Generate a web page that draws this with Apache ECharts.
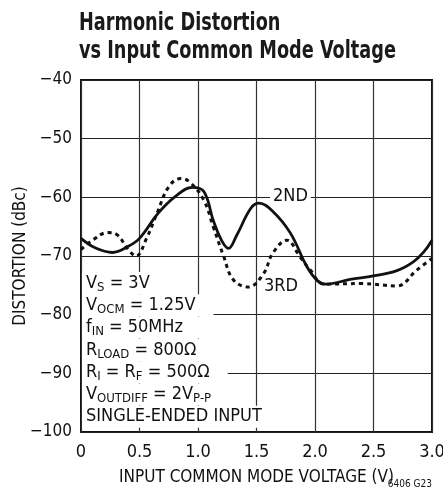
<!DOCTYPE html>
<html>
<head>
<meta charset="utf-8">
<script src="https://cdn.jsdelivr.net/npm/echarts@6/dist/echarts.min.js"></script>
<style>
  html, body { margin: 0; padding: 0; background: #fff; }
  #chart { width: 443px; height: 498px; }
</style>
</head>
<body>
<div id="chart"></div>
<script>
const FONT = '"DejaVu Sans Condensed", "Liberation Sans", sans-serif'

// 2ND harmonic (solid)
const x2nd = [0, 0.12, 0.27, 0.40, 0.50, 0.66, 0.81, 0.95, 1.05, 1.13, 1.20, 1.26, 1.33, 1.45, 1.52, 1.64, 1.79, 1.93, 2.02, 2.09, 2.30, 2.50, 2.70, 2.84, 2.93, 3.0]
const y2nd = [-67.0, -68.6, -69.4, -68.4, -67.0, -62.7, -59.8, -58.3, -59.0, -63.9, -67.3, -68.7, -66.5, -61.9, -61.0, -62.4, -66.1, -71.8, -74.2, -74.8, -74.0, -73.4, -72.5, -71.0, -69.3, -67.3]

// 3RD harmonic (dashed)
const x3rd = [0, 0.10, 0.23, 0.31, 0.40, 0.47, 0.56, 0.65, 0.75, 0.85, 0.93, 1.05, 1.13, 1.22, 1.30, 1.43, 1.56, 1.64, 1.76, 1.87, 1.96, 2.08, 2.40, 2.70, 2.87, 3.0]
const y3rd = [-68.9, -67.3, -66.0, -66.4, -68.8, -70.0, -67.0, -62.7, -58.2, -56.8, -57.4, -60.5, -65.0, -70.1, -74.0, -75.3, -73.0, -69.5, -67.3, -70.1, -72.4, -74.8, -74.7, -75.1, -72.4, -70.4]

const notes = [
  '{m|V}{s|S}{m| = 3V}',
  '{m|V}{s|OCM}{m| = 1.25V}',
  '{m|f}{s|IN}{m| = 50MHz}',
  '{m|R}{s|LOAD}{m| = 800Ω}',
  '{m|R}{s|I}{m| = R}{s|F}{m| = 500Ω}',
  '{m|V}{s|OUTDIFF}{m| = 2V}{s|P-P}',
  '{m|SINGLE-ENDED INPUT}'
]

const pairs = (xs, ys) => xs.map((x, i) => [x, ys[i]])

const chart = echarts.init(document.getElementById('chart'))

const noteEls = notes.map((t, i) => ({
  type: 'text',
  x: 82,
  y: 272 + i * 22.3,
  z: 10,
  style: {
    text: t,
    backgroundColor: '#fff',
    padding: [0, 18, 0, 4],
    rich: {
      m: { fontFamily: FONT, fontSize: 18, lineHeight: 22, verticalAlign: 'middle', fill: '#111' },
      s: { fontFamily: FONT, fontSize: 13, lineHeight: 22, verticalAlign: 'bottom', padding: [8, 0, 0, 0], fill: '#111' }
    }
  }
}))

chart.setOption({
  backgroundColor: '#fff',
  animation: false,
  grid: { left: 81, right: 11, top: 80, bottom: 66, show: true, borderColor: '#111', borderWidth: 2, outerBoundsMode: 'none' },
  xAxis: {
    type: 'value', min: 0, max: 3, interval: 0.5,
    name: 'INPUT COMMON MODE VOLTAGE (V)', nameLocation: 'middle', nameGap: 37,
    nameTextStyle: { fontFamily: FONT, fontSize: 17, color: '#111' },
    axisLine: { show: false }, axisTick: { show: false },
    axisLabel: { fontFamily: FONT, fontSize: 18, color: '#111', margin: 11,
      formatter: v => v === 0 ? '0' : v.toFixed(1) },
    splitLine: { lineStyle: { color: '#333', width: 1.2 } }
  },
  yAxis: {
    type: 'value', min: -100, max: -40, interval: 10,
    name: 'DISTORTION (dBc)', nameLocation: 'middle', nameGap: 52, nameMoveOverlap: false,
    nameTextStyle: { fontFamily: FONT, fontSize: 17, color: '#111' },
    axisLine: { show: false }, axisTick: { show: false },
    axisLabel: { fontFamily: FONT, fontSize: 17, color: '#111', margin: 9,
      formatter: v => String(v).replace('-', '\u2212') },
    splitLine: { lineStyle: { color: '#222', width: 1.2 } }
  },
  series: [
    {
      name: '3RD', type: 'line', data: pairs(x3rd, y3rd), smooth: 0.4, symbol: 'none',
      lineStyle: { color: '#111', width: 3, type: [4, 4] }, z: 3
    },
    {
      name: '2ND', type: 'line', data: pairs(x2nd, y2nd), smooth: 0.4, symbol: 'none',
      lineStyle: { color: '#111', width: 2.8 }, z: 4
    }
  ],
  graphic: [
    ...noteEls,
    { type: 'text', x: 79, y: 10, scaleX: 0.82, z: 10,
      style: { text: 'Harmonic Distortion\nvs Input Common Mode Voltage', fontFamily: FONT, fontSize: 24,
        fontWeight: 'bold', lineHeight: 28, fill: '#1a1a1a' } },
    { type: 'text', x: 270, y: 187, z: 10,
      style: { text: '2ND', fontFamily: FONT, fontSize: 18, fill: '#111', backgroundColor: '#fff', padding: [0, 3, 0, 3] } },
    { type: 'text', x: 264, y: 277, z: 10,
      style: { text: '3RD', fontFamily: FONT, fontSize: 18, fill: '#111' } },
    { type: 'text', right: 11, top: 479, z: 10,
      style: { text: '6406 G23', fontFamily: FONT, fontSize: 10, fill: '#111' } }
  ]
})
</script>
</body>
</html>
